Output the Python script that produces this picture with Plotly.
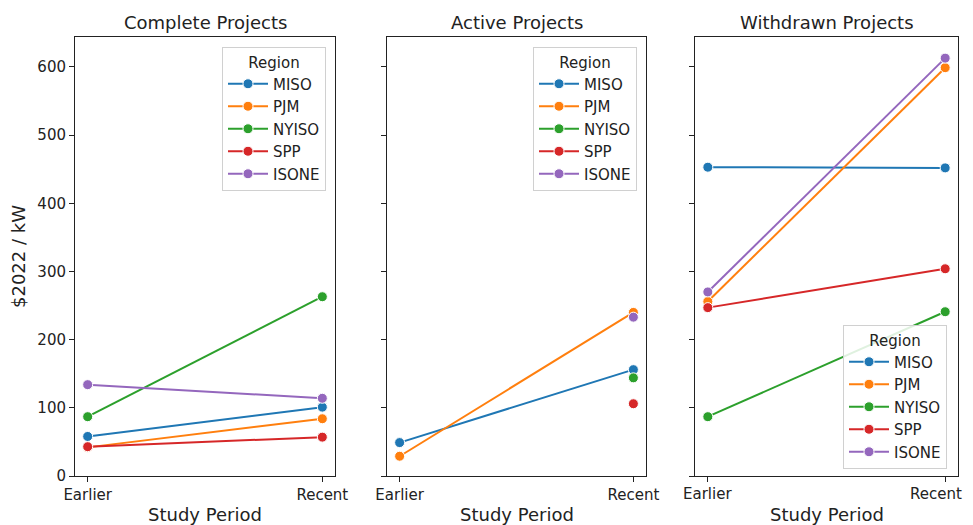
import plotly.graph_objects as go

periods = ["Earlier", "Recent"]
regions = ["MISO", "PJM", "NYISO", "SPP", "ISONE"]
colors = ["#1f77b4", "#ff7f0e", "#2ca02c", "#d62728", "#9467bd"]
panel_titles = ["Complete Projects", "Active Projects", "Withdrawn Projects"]
x_title = "Study Period"
y_title = "$2022 / kW"

complete_vals = {
    "MISO": [58, 101],
    "PJM": [42, 84],
    "NYISO": [87, 263],
    "SPP": [43, 57],
    "ISONE": [134, 114],
}
active_vals = {
    "MISO": [49, 156],
    "PJM": [29, 240],
    "NYISO": [None, 144],
    "SPP": [None, 106],
    "ISONE": [None, 233],
}
withdrawn_vals = {
    "MISO": [453, 452],
    "PJM": [256, 599],
    "NYISO": [87, 241],
    "SPP": [247, 304],
    "ISONE": [270, 613],
}
panels = [complete_vals, active_vals, withdrawn_vals]

# page has an 8px body margin, so the figure is offset by (8, 8)
OFF = 8
W, H = 965, 517
x_px = [(75, 335), (387, 646), (695, 958)]
y_top, y_bot = 37, 476
legend_pos = [(222, 47), (533, 47), (843, 325)]


def px_x(p):
    return (p - OFF) / W


def px_y(p):
    return 1 - (p - OFF) / H


font_family = "DejaVu Sans, Arial, sans-serif"
fig = go.Figure()

for i, vals in enumerate(panels):
    xa = "x" if i == 0 else f"x{i+1}"
    ya = "y" if i == 0 else f"y{i+1}"
    lg = "legend" if i == 0 else f"legend{i+1}"
    for r, c in zip(regions, colors):
        fig.add_trace(go.Scatter(
            x=periods, y=vals[r], name=r, mode="lines+markers",
            line=dict(color=c, width=2),
            marker=dict(color=c, size=10, line=dict(color="white", width=1)),
            xaxis=xa, yaxis=ya, legend=lg, showlegend=True,
        ))

layout = dict(
    width=W, height=H,
    margin=dict(l=0, r=0, t=0, b=0),
    paper_bgcolor="white", plot_bgcolor="white",
    font=dict(family=font_family, color="#222222", size=15),
    annotations=[],
)

for i in range(3):
    sx = "" if i == 0 else str(i + 1)
    x0, x1 = x_px[i]
    layout[f"xaxis{sx}"] = dict(
        domain=[px_x(x0), px_x(x1)],
        anchor=f"y{sx}",
        type="category",
        range=[-0.054, 1.054],
        automargin=False,
        showticklabels=(i < 2),
        showline=True, linecolor="#222222", linewidth=1, mirror=True,
        ticks="outside", ticklen=5, tickcolor="#222222",
        showgrid=False, zeroline=False,
        tickfont=dict(size=15),
    )
    layout[f"yaxis{sx}"] = dict(
        domain=[px_y(y_bot), px_y(y_top)],
        anchor=f"x{sx}",
        range=[0, 644],
        tickvals=[0, 100, 200, 300, 400, 500, 600],
        showticklabels=(i == 0),
        automargin=False,
        showline=True, linecolor="#222222", linewidth=1, mirror=True,
        ticks="outside", ticklen=5, tickcolor="#222222",
        showgrid=False, zeroline=False,
        tickfont=dict(size=15),
        title=dict(text=y_title if i == 0 else "", font=dict(size=18), standoff=8),
    )
    if i > 0:
        layout[f"yaxis{sx}"]["matches"] = "y"
    layout["annotations"].append(dict(
        text=panel_titles[i], xref="paper", yref="paper",
        x=px_x((x0 + x1) / 2), y=px_y(22),
        xanchor="center", yanchor="middle", showarrow=False,
        font=dict(size=18, color="#222222"),
    ))
    layout["annotations"].append(dict(
        text=x_title, xref="paper", yref="paper",
        x=px_x((x0 + x1) / 2), y=px_y(514),
        xanchor="center", yanchor="middle", showarrow=False,
        font=dict(size=18, color="#222222"),
    ))
    lx, ly = legend_pos[i]
    lname = "legend" if i == 0 else f"legend{i+1}"
    layout[lname] = dict(
        x=px_x(lx), y=px_y(ly), xanchor="left", yanchor="top",
        bgcolor="rgba(255,255,255,0.85)", bordercolor="#d0d0d0", borderwidth=1,
        title=dict(text="Region", side="top center", font=dict(size=15)),
        font=dict(size=15), tracegroupgap=0, itemwidth=40,
    )

# tick labels of the right-hand panel drawn as annotations so "Recent" stays inside the page
for j, p in enumerate(periods):
    last = j == len(periods) - 1
    layout["annotations"].append(dict(
        text=p, xref="x3", yref="paper", x=p, y=px_y(494),
        xanchor="right" if last else "center", xshift=19 if last else 0,
        yanchor="middle", showarrow=False,
        font=dict(size=15, color="#222222"),
    ))

fig.update_layout(**layout)
fig.write_html("out.html")
